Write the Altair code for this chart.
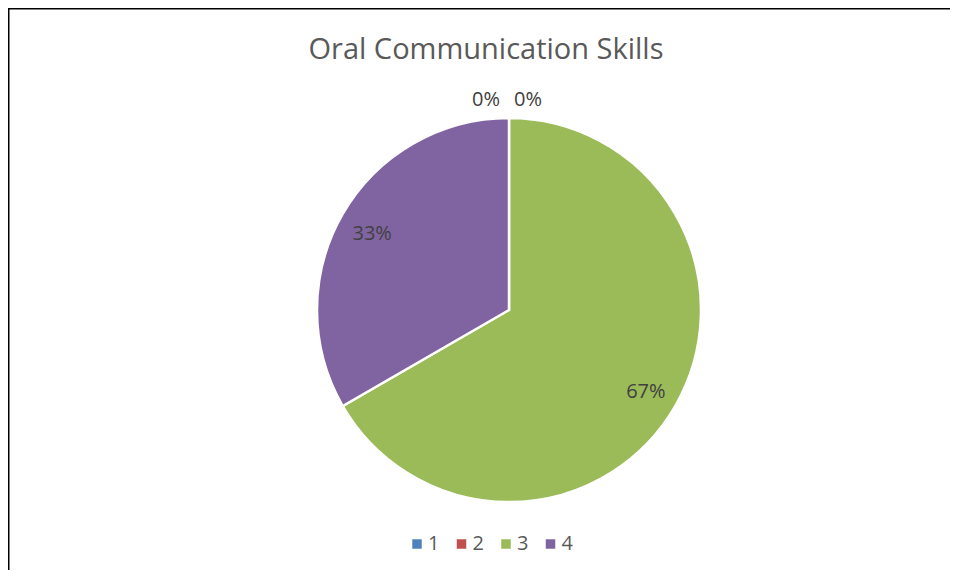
import altair as alt
import pandas as pd

categories = ["1", "2", "3", "4"]
values = [0, 0, 2, 1]
labels = ["0%", "0%", "67%", "33%"]
colors = ["#4F81BD", "#C0504D", "#9BBB59", "#8064A2"]
title_text = "Oral Communication Skills"

df = pd.DataFrame({"cat": categories, "value": values, "label": labels})

W, H = 942, 562
CX, CY, R = 501, 302, 192
FONT = "Open Sans"

color_scale = alt.Scale(domain=categories, range=colors)

base = alt.Chart(df).encode(
    theta=alt.Theta("value:Q", stack=True),
    order=alt.Order("cat:N", sort="ascending"),
)

arcs = base.mark_arc(radius=R, stroke="white", strokeWidth=2.5).encode(
    x=alt.value(CX), y=alt.value(CY),
    color=alt.Color(
        "cat:N", scale=color_scale,
        legend=alt.Legend(
            title=None, orient="none", direction="horizontal",
            legendX=399, legendY=526, symbolType="square", symbolSize=90,
            labelFont=FONT, labelFontSize=20, labelColor="#595959",
            symbolStrokeWidth=0, columnPadding=11.5, symbolOffset=0, labelOffset=1,
        ),
    ),
)

inner = base.mark_text(radius=158, dy=3, font=FONT, fontSize=20, color="#404040").encode(
    x=alt.value(CX), y=alt.value(CY), text="label:N"
).transform_filter(alt.datum.value > 0)

zero1 = base.mark_text(radius=210, dx=-23, font=FONT, fontSize=20, color="#404040").encode(
    x=alt.value(CX), y=alt.value(CY), text="label:N"
).transform_filter(alt.datum.cat == "1")

zero2 = base.mark_text(radius=210, dx=19, font=FONT, fontSize=20, color="#404040").encode(
    x=alt.value(CX), y=alt.value(CY), text="label:N"
).transform_filter(alt.datum.cat == "2")

title = alt.Chart(pd.DataFrame({"t": [title_text]})).mark_text(
    font=FONT, fontSize=29, color="#595959"
).encode(x=alt.value(478), y=alt.value(42), text="t:N")

frame_df = pd.DataFrame({"k": [0]})
left_rule = alt.Chart(frame_df).mark_rule(color="black", strokeWidth=3).encode(
    x=alt.value(0), y=alt.value(0), y2=alt.value(H + 20)
)
top_rule = alt.Chart(frame_df).mark_rule(color="black", strokeWidth=3).encode(
    x=alt.value(0), x2=alt.value(W + 20), y=alt.value(0)
)

chart = alt.layer(arcs, inner, zero1, zero2, title, left_rule, top_rule).properties(
    width=W, height=H,
    autosize=alt.AutoSizeParams(type="none"),
    padding=0,
).configure(background="white").configure_view(stroke="transparent", strokeWidth=0)

chart.save("out.html", embed_options={"renderer": "svg", "actions": False})
